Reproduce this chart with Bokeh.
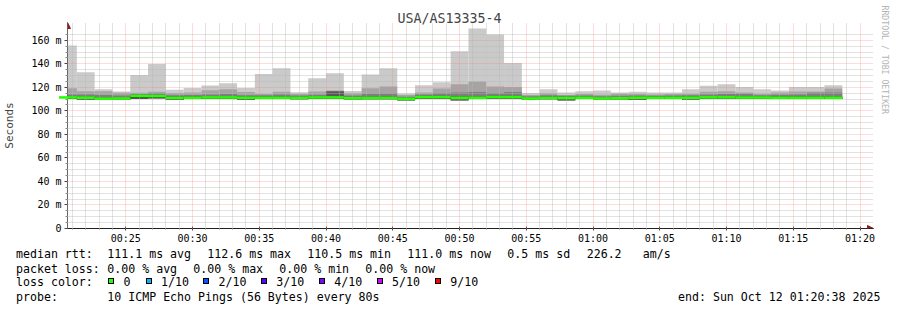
import pandas as pd
from bokeh.plotting import figure
from bokeh.layouts import column
from bokeh.models import (Range1d, FixedTicker, Arrow, NormalHead, Title, Div,
                          ColumnDataSource, DatetimeTickFormatter)
from bokeh.embed import file_html
from bokeh.resources import INLINE

# ---------------- data ----------------
title_text = "USA/AS13335-4"
y_axis_title = "Seconds"
watermark_text = "RRDTOOL / TOBI OETIKER"

view_start = "2025-10-12 00:20:38"
view_end = "2025-10-12 01:20:38"
first_bin_start = "2025-10-12 00:20:00"
step_seconds = 80

# sorted ping quantiles per 80 s step (ms)
ping_max = [155.5, 132.8, 118.3, 116.4, 130.5, 139.8, 118.0, 119.4, 121.5, 123.5,
            119.5, 131.3, 136.2, 115.8, 127.7, 131.9, 116.8, 130.8, 136.2, 114.8,
            121.7, 124.3, 150.6, 170.0, 165.0, 140.7, 115.2, 118.3, 115.5, 116.6,
            117.4, 115.5, 116.3, 115.5, 115.7, 118.3, 121.4, 122.6, 120.3, 118.3,
            117.2, 120.3, 120.3, 121.7]
ping_p9 = [119.2, 116.7, 116.7, 115.3, 115.3, 116.3, 115.2, 115.7, 117.6, 118.4,
           116.0, 114.5, 116.3, 114.3, 116.5, 117.3, 115.0, 119.2, 120.6, 113.4,
           115.6, 119.0, 122.6, 125.0, 120.8, 120.2, 113.5, 115.0, 113.5, 114.3,
           113.6, 114.6, 114.4, 114.0, 114.3, 114.6, 116.3, 116.6, 115.7, 114.6,
           115.6, 116.5, 116.5, 119.1]
ping_p8 = [114.0, 114.0, 113.5, 113.0, 113.8, 114.8, 113.3, 113.4, 114.0, 114.3,
           113.3, 113.3, 114.0, 113.0, 113.6, 116.8, 113.0, 114.5, 114.8, 112.0,
           113.8, 115.0, 115.5, 116.0, 115.0, 116.0, 112.5, 113.2, 112.8, 113.0,
           112.5, 112.8, 113.0, 112.8, 113.0, 113.2, 114.0, 114.4, 114.6, 113.2,
           113.6, 114.0, 115.4, 115.5]
ping_p7 = [112.5, 112.3, 111.5, 111.6, 113.6, 113.5, 112.1, 112.2, 112.5, 112.5,
           112.2, 112.2, 112.2, 112.0, 112.5, 116.4, 111.8, 112.1, 112.1, 111.2,
           112.8, 112.8, 112.1, 112.2, 112.8, 112.9, 111.5, 112.1, 112.1, 112.2,
           111.5, 111.8, 112.4, 112.2, 112.2, 112.2, 112.6, 112.6, 112.4, 112.4,
           112.2, 112.2, 112.3, 112.3]
median_rtt = [111.4, 111.2, 110.4, 110.5, 112.6, 112.5, 111.0, 111.1, 111.4, 111.4,
              111.1, 111.1, 111.1, 111.0, 111.4, 111.4, 110.7, 111.0, 111.0, 110.2,
              111.7, 111.7, 111.0, 111.1, 111.7, 111.7, 110.5, 111.0, 111.0, 111.1,
              110.5, 110.7, 111.2, 111.1, 111.1, 111.1, 111.5, 111.5, 111.3, 111.3,
              111.1, 111.1, 111.1, 111.1]
ping_min = [110.2, 109.4, 109.3, 109.4, 110.6, 110.8, 109.3, 110.0, 110.3, 110.3,
            109.3, 110.0, 110.0, 109.9, 110.3, 110.3, 109.6, 109.9, 109.9, 109.1,
            110.6, 110.6, 109.0, 110.0, 110.6, 110.6, 109.4, 109.9, 109.0, 110.0,
            109.4, 109.6, 109.2, 110.0, 110.0, 109.4, 110.4, 110.4, 110.2, 110.2,
            110.0, 110.0, 110.0, 110.0]

x_tick_labels = ["00:25", "00:30", "00:35", "00:40", "00:45", "00:50",
                 "00:55", "01:00", "01:05", "01:10", "01:15", "01:20"]
y_tick_values = [0, 20, 40, 60, 80, 100, 120, 140, 160]
y_tick_labels = ["0", "20 m", "40 m", "60 m", "80 m", "100 m", "120 m", "140 m", "160 m"]
y_grid_top = 170

median_stats = {"avg": 111.1, "max": 112.6, "min": 110.5, "now": 111.0}
median_sd = 0.5
median_ams = 226.2
loss_stats = {"avg": 0.00, "max": 0.00, "min": 0.00, "now": 0.00}
loss_labels = ["0", "1/10", "2/10", "3/10", "4/10", "5/10", "9/10"]
loss_colors = ["#26ff00", "#00b8ff", "#0059ff", "#5e00ff", "#7e00ff", "#dd00ff", "#ff0000"]
probe_text = "10 ICMP Echo Pings (56 Bytes) every 80s"
end_text = "end: Sun Oct 12 01:20:38 2025"

# ---------------- helpers ----------------
def ms(ts):
    return int(pd.Timestamp(ts).value // 10**6)

t_start = ms(view_start)
t_end = ms(view_end)
t0 = ms(first_bin_start)
n = len(median_rtt)
lefts = [t0 + i * step_seconds * 1000 for i in range(n)]
rights = [l + step_seconds * 1000 for l in lefts]

src = ColumnDataSource(dict(left=lefts, right=rights, pmax=ping_max, p9=ping_p9,
                            p8=ping_p8, p7=ping_p7, med=median_rtt, pmin=ping_min))

FONT = "DejaVu Sans Mono"
W, H_MAIN, H_LEG = 897, 248, 62
# frame: x 66..873 (axis arrow tip at 873), y 22..228 (arrow tip at 22)
FL, FR, FT, FB = 66, 24, 22, 20
PX_PER_MS = 1.175          # vertical scale of the chart (px per ms of rtt)
SEC_PER_PX = 3600.0 / 802  # horizontal scale (s per px)
y_top = y_grid_top + 6 / PX_PER_MS
x_right = t_end + int(5 * SEC_PER_PX * 1000)

p = figure(width=W, height=H_MAIN, x_axis_type="datetime",
           x_range=Range1d(t_start, x_right), y_range=Range1d(0, y_top),
           output_backend="svg", toolbar_location=None, title=title_text,
           min_border_left=FL, min_border_right=FR, min_border_top=FT,
           min_border_bottom=FB)
p.outline_line_color = None
p.background_fill_color = "white"
p.border_fill_color = "white"

p.title.text_font = FONT
p.title.text_font_size = "13.3px"
p.title.text_font_style = "normal"
p.title.align = "left"
p.title.offset = 330
p.title.standoff = -6

# smoke
smoke = [("pmax", "#cacaca"), ("p9", "#a4a4a4"), ("p8", "#7e7e7e"),
         ("p7", "#585858"), ("med", "#323232")]
for col, colr in smoke:
    p.quad(left="left", right="right", bottom="pmin", top=col, source=src,
           fill_color=colr, line_color=None)
green = p.segment(x0="left", x1="right", y0="med", y1="med", source=src,
                  line_color="#26ff00", line_width=2.6, line_cap="butt")
green.level = "annotation"

# ticks
x_major = [ms("2025-10-12 " + s) for s in x_tick_labels]
x_minor = [t for t in range(ms("2025-10-12 00:21"), t_end, 60000) if t not in x_major]
p.xaxis.ticker = FixedTicker(ticks=x_major, minor_ticks=x_minor)
p.xaxis.formatter = DatetimeTickFormatter(minutes="%H:%M", hourmin="%H:%M", hours="%H:%M")
p.xaxis.major_label_overrides = {t: s for t, s in zip(x_major, x_tick_labels)}
y_minor = [v for v in range(5, y_grid_top, 5) if v not in y_tick_values]
p.yaxis.ticker = FixedTicker(ticks=y_tick_values, minor_ticks=y_minor)
p.yaxis.major_label_overrides = {v: s for v, s in zip(y_tick_values, y_tick_labels)}

for ax in (p.xaxis[0], p.yaxis[0]):
    ax.major_label_text_font = FONT
    ax.major_label_text_font_size = "10px"
    ax.major_label_text_color = "black"
    ax.major_tick_line_color = "#444444"
    ax.minor_tick_line_color = "#888888"
p.xaxis.axis_line_color = "#222222"
p.yaxis.axis_line_color = "#666666"
p.xaxis.major_tick_out = 2
p.xaxis.major_tick_in = 2
p.xaxis.minor_tick_out = 1
p.xaxis.minor_tick_in = 0
p.xaxis.major_label_standoff = 2
p.yaxis.major_tick_out = 3
p.yaxis.major_tick_in = 0
p.yaxis.minor_tick_out = 2
p.yaxis.minor_tick_in = 0
p.yaxis.major_label_standoff = 3
p.yaxis.axis_label = y_axis_title
p.yaxis.axis_label_text_font = FONT
p.yaxis.axis_label_text_font_size = "11px"
p.yaxis.axis_label_text_font_style = "normal"
p.yaxis.axis_label_standoff = 12

# grids (drawn over the smoke like rrdtool)
for g in (p.xgrid[0], p.ygrid[0]):
    g.level = "guide"
    g.grid_line_color = "#ff8080"
    g.grid_line_alpha = 0.55
    g.grid_line_dash = "1 1"
    g.minor_grid_line_color = "#b8b8b8"
    g.minor_grid_line_alpha = 0.8
    g.minor_grid_line_dash = "1 1"

# axis arrows
ARROW_C = "#8f1d1d"
p.add_layout(Arrow(end=NormalHead(size=6, fill_color=ARROW_C, line_color=ARROW_C),
                   x_start=t_start, y_start=y_grid_top, x_end=t_start, y_end=y_top,
                   line_color="#666666", line_width=1))
p.add_layout(Arrow(end=NormalHead(size=6, fill_color=ARROW_C, line_color=ARROW_C),
                   x_start=t_end, y_start=0, x_end=x_right, y_end=0,
                   line_color="#222222", line_width=1))

# watermark on the right side
p.add_layout(Title(text=watermark_text, text_font=FONT, text_font_size="8.2px",
                   text_font_style="normal", text_color="#b4b4b4", align="left",
                   offset=-17, standoff=12), "right")

# ---------------- legend (html text block below the chart) ----------------
rows_y = [254, 268.7, 282, 296.7]
LINE_H = 14
spans = []

def txt(x, yc, s):
    top = yc - H_MAIN - LINE_H / 2
    spans.append(f'<span style="position:absolute;left:{x}px;top:{top:.1f}px;'
                 f'white-space:pre;">{s}</span>')

def box(x, yc, c):
    top = yc - H_MAIN - 4
    spans.append(f'<span style="position:absolute;left:{x}px;top:{top:.1f}px;width:6px;'
                 f'height:6px;background:{c};border:1px solid #000;"></span>')

row1 = ["median rtt:"] + [f"{median_stats[k]:.1f} ms {k}" for k in ("avg", "max", "min", "now")] \
       + [f"{median_sd:.1f} ms sd", f"{median_ams:.1f}", "am/s"]
row1_x = [16, 107.3, 207.3, 307.3, 407.3, 507.3, 586.7, 642.7]
row2 = ["packet loss:"] + [f"{loss_stats[k]:.2f} % {k}" for k in ("avg", "max", "min", "now")]
row2_x = [16, 107.3, 193.3, 279.3, 365.3]
box_left = [108.3, 145.7, 203.3, 261.0, 319.0, 376.7, 435.0]
row4 = ["probe:", probe_text, end_text]
row4_x = [16, 107.3, 678]

for s, x in zip(row1, row1_x):
    txt(x, rows_y[0], s)
for s, x in zip(row2, row2_x):
    txt(x, rows_y[1], s)
txt(16, rows_y[2], "loss color:")
for b, lab, c in zip(box_left, loss_labels, loss_colors):
    box(b, rows_y[2], c)
    txt(b + 15.3, rows_y[2], lab)
for s, x in zip(row4, row4_x):
    txt(x, rows_y[3], s)

html = (f'<div style="position:relative;width:{W}px;height:{H_LEG}px;'
        f'font-family:\'{FONT}\';font-size:11.6px;line-height:{LINE_H}px;color:#000;'
        f'background:#fff;">' + "".join(spans) + '</div>')
legend_div = Div(text=html, width=W, height=H_LEG, margin=(0, 0, 0, 0))

layout = column(p, legend_div, spacing=0)
open("out.html", "w").write(file_html(layout, INLINE))
